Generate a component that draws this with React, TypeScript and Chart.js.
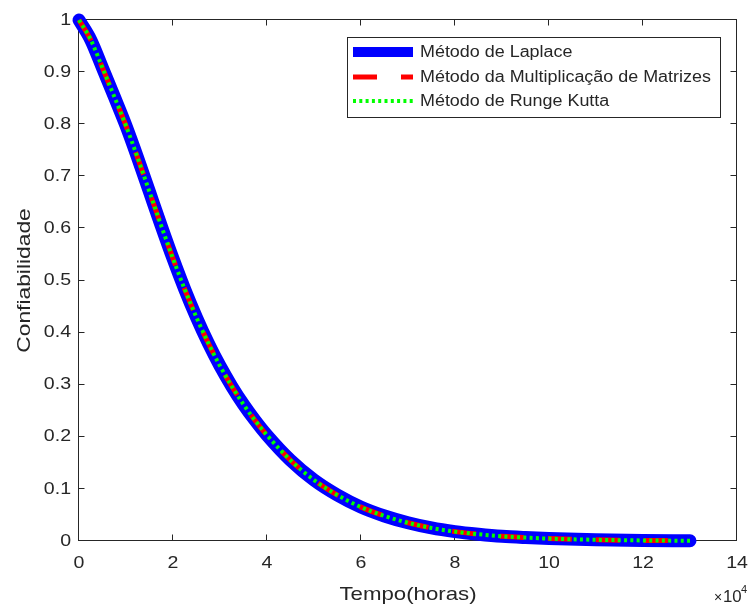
import React, { useEffect, useRef } from "react";
import { Chart, registerables } from "chart.js";

Chart.register(...registerables);

// ---------- data ----------
const timeValues = [0, 0.25, 0.5, 0.75, 1, 1.25, 1.5, 1.75, 2, 2.25, 2.5, 2.75, 3, 3.25, 3.5, 3.75, 4, 4.5, 5, 5.5, 6, 6.5, 7, 7.5, 8, 8.5, 9, 9.5, 10, 11, 12, 13];
const laplaceValues = [1.0, 0.962, 0.908, 0.853, 0.797, 0.735, 0.67, 0.605, 0.542, 0.483, 0.429, 0.38, 0.336, 0.297, 0.262, 0.231, 0.203, 0.155, 0.117, 0.088, 0.065, 0.048, 0.035, 0.025, 0.018, 0.013, 0.009, 0.0065, 0.0046, 0.0023, 0.0011, 0.0005];
const matrizValues = [1.0, 0.962, 0.908, 0.853, 0.797, 0.735, 0.67, 0.605, 0.542, 0.483, 0.429, 0.38, 0.336, 0.297, 0.262, 0.231, 0.203, 0.155, 0.117, 0.088, 0.065, 0.048, 0.035, 0.025, 0.018, 0.013, 0.009, 0.0065, 0.0046, 0.0023, 0.0011, 0.0005];
const rungeKuttaValues = [1.0, 0.962, 0.908, 0.853, 0.797, 0.735, 0.67, 0.605, 0.542, 0.483, 0.429, 0.38, 0.336, 0.297, 0.262, 0.231, 0.203, 0.155, 0.117, 0.088, 0.065, 0.048, 0.035, 0.025, 0.018, 0.013, 0.009, 0.0065, 0.0046, 0.0023, 0.0011, 0.0005];

const seriesLabels = ["Método de Laplace", "Método da Multiplicação de Matrizes", "Método de Runge Kutta"];
const xTickValues = [0, 2, 4, 6, 8, 10, 12, 14];
const xTickLabels = ["0", "2", "4", "6", "8", "10", "12", "14"];
const yTickValues = [0, 0.1, 0.2, 0.3, 0.4, 0.5, 0.6, 0.7, 0.8, 0.9, 1];
const yTickLabels = ["0", "0.1", "0.2", "0.3", "0.4", "0.5", "0.6", "0.7", "0.8", "0.9", "1"];
const xAxisTitle = "Tempo(horas)";
const yAxisTitle = "Confiabilidade";
const xExponentBase = "10";
const xExponent = "4";

// ---------- style ----------
const AXIS = "#262626";
const FONT = '"Liberation Sans", Arial, sans-serif';

function txt(ctx: CanvasRenderingContext2D, s: string, x: number, y: number, size: number, sx: number, align: CanvasTextAlign, baseline: CanvasTextBaseline, rot = 0) {
  ctx.save();
  ctx.font = `${size}px ${FONT}`;
  ctx.fillStyle = AXIS;
  ctx.textAlign = align;
  ctx.textBaseline = baseline;
  ctx.translate(x, y);
  if (rot) ctx.rotate(rot);
  ctx.scale(sx, 1);
  ctx.fillText(s, 0, 0);
  ctx.restore();
}

const matlabAxes = {
  id: "matlabAxes",
  beforeDatasetsDraw(chart: any) {
    const { ctx, chartArea: a, scales } = chart;
    const xs = scales.x, ys = scales.y;
    ctx.save();
    ctx.strokeStyle = AXIS;
    ctx.lineWidth = 1;
    const L = Math.round(a.left) - 0.5, R = Math.round(a.right) - 0.5;
    const T = Math.round(a.top) - 0.5, B = Math.round(a.bottom) - 0.5;
    ctx.strokeRect(L, T, R - L, B - T);
    const tl = 6;
    ctx.beginPath();
    xTickValues.forEach((v) => {
      const px = Math.round(xs.getPixelForValue(v)) - 0.5;
      ctx.moveTo(px, B); ctx.lineTo(px, B - tl);
      ctx.moveTo(px, T); ctx.lineTo(px, T + tl);
    });
    yTickValues.forEach((v) => {
      const py = Math.round(ys.getPixelForValue(v)) - 0.5;
      ctx.moveTo(L, py); ctx.lineTo(L + tl, py);
      ctx.moveTo(R, py); ctx.lineTo(R - tl, py);
    });
    ctx.stroke();
    ctx.restore();

    xTickValues.forEach((v, i) => {
      txt(ctx, xTickLabels[i], xs.getPixelForValue(v), 563, 17, 1.15, "center", "middle");
    });
    yTickValues.forEach((v, i) => {
      txt(ctx, yTickLabels[i], 71, ys.getPixelForValue(v), 17, 1.15, "right", "middle");
    });
    txt(ctx, xAxisTitle, (a.left + a.right) / 2, 600, 19, 1.17, "center", "alphabetic");
    txt(ctx, yAxisTitle, 30, (a.top + a.bottom) / 2, 19, 1.2, "center", "alphabetic", -Math.PI / 2);
    txt(ctx, "×", 718, 602, 14, 1.0, "center", "alphabetic");
    txt(ctx, xExponentBase, 723, 602, 16, 1.05, "left", "alphabetic");
    txt(ctx, xExponent, 741, 593, 11, 1.0, "left", "alphabetic");
  },
  afterDatasetsDraw(chart: any) {
    const { ctx } = chart;
    const bx = 347.5, by = 37.5, bw = 373, bh = 80;
    ctx.save();
    ctx.fillStyle = "#ffffff";
    ctx.fillRect(bx, by, bw, bh);
    ctx.strokeStyle = AXIS;
    ctx.lineWidth = 1;
    ctx.strokeRect(bx, by, bw, bh);
    const rows = [52, 77, 101];
    const x0 = 353, x1 = 413;
    chart.data.datasets.forEach((ds: any, i: number) => {
      const y = rows[i];
      ctx.save();
      ctx.strokeStyle = ds.borderColor;
      ctx.lineWidth = i === 0 ? 10 : ds.borderWidth;
      ctx.setLineDash(ds.borderDash || []);
      ctx.lineCap = "butt";
      ctx.beginPath();
      ctx.moveTo(x0, y);
      ctx.lineTo(x1, y);
      ctx.stroke();
      ctx.restore();
      txt(ctx, ds.label, 420, y + 1, 16, 1.12, "left", "middle");
    });
    ctx.restore();
  },
};

export default function App() {
  const ref = useRef<HTMLCanvasElement | null>(null);
  useEffect(() => {
    if (!ref.current) return;
    const pts = (vals: number[]) => timeValues.map((t, i) => ({ x: t, y: vals[i] }));
    const chart = new Chart(ref.current, {
      type: "line",
      data: {
        datasets: [
          { label: seriesLabels[0], order: 3, data: pts(laplaceValues), borderColor: "#0000ff", borderWidth: 13, borderCapStyle: "round", borderJoinStyle: "round", pointRadius: 0, cubicInterpolationMode: "monotone", clip: false } as any,
          { label: seriesLabels[1], order: 2, data: pts(matrizValues), borderColor: "#ff0000", borderWidth: 5, borderDash: [24, 24], borderCapStyle: "butt", pointRadius: 0, cubicInterpolationMode: "monotone", clip: false } as any,
          { label: seriesLabels[2], order: 1, data: pts(rungeKuttaValues), borderColor: "#00ff00", borderWidth: 4, borderDash: [3, 3.3], borderCapStyle: "butt", pointRadius: 0, cubicInterpolationMode: "monotone", clip: false } as any,
        ],
      },
      options: {
        animation: false,
        responsive: false,
        layout: { padding: { left: 79, top: 20, right: 12, bottom: 64 } },
        plugins: { legend: { display: false }, tooltip: { enabled: false } },
        scales: {
          x: { type: "linear", min: 0, max: 14, display: false },
          y: { type: "linear", min: 0, max: 1, display: false },
        },
      },
      plugins: [matlabAxes],
    });
    return () => chart.destroy();
  }, []);
  return (
    <div style={{ position: "fixed", left: 0, top: 0, width: 749, height: 605, background: "#fff" }}>
      <canvas ref={ref} width={749} height={605} style={{ width: 749, height: 605 }} />
    </div>
  );
}
